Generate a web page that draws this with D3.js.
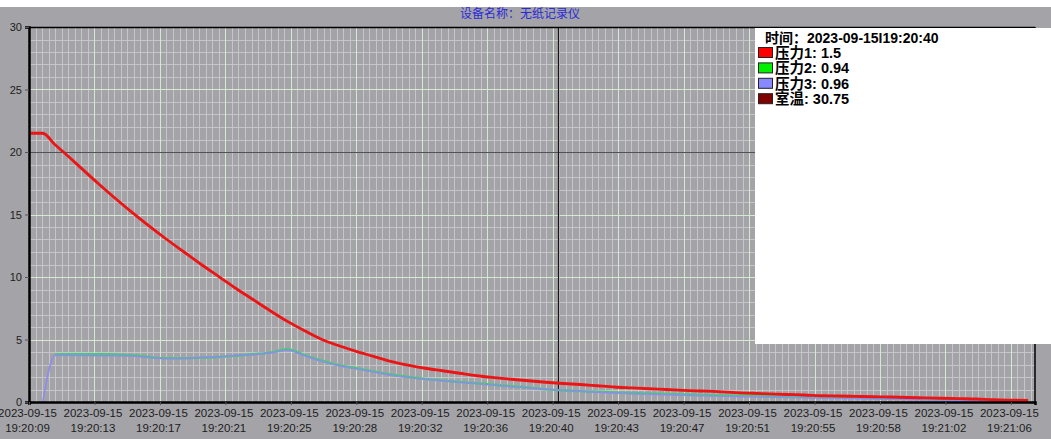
<!DOCTYPE html>
<html>
<head>
<meta charset="utf-8">
<script src="https://cdn.jsdelivr.net/npm/d3@7"></script>
<style>
  html, body { margin: 0; padding: 0; background: #ffffff; }
  svg { display: block; }
</style>
</head>
<body>
<svg id="chart" width="1051" height="439"></svg>
<script>
// Sample times in seconds after 19:20:09
const times = [0, 0.8, 1.5, 2, 3, 4, 5, 6, 7, 8, 9, 10, 11, 12, 13, 14, 15, 16, 17, 18, 19,
  20, 21, 22, 23, 24, 25, 26, 27, 28, 29, 30, 31, 32, 33, 34, 35, 36, 37, 38, 39,
  40, 41, 42, 43, 44, 45, 46, 47, 48, 49, 50, 51, 52, 53, 54, 55, 56, 57, 58];

// 压力1
const pressure1 = [21.5, 21.5, 20.6, 20.0, 18.75, 17.5, 16.3, 15.15, 14.05, 13.0, 12.0, 11.0, 10.05, 9.1, 8.2, 7.3, 6.45, 5.7, 5.0, 4.5, 4.05,
  3.65, 3.25, 2.95, 2.7, 2.5, 2.3, 2.1, 1.95, 1.82, 1.7, 1.58, 1.48, 1.4, 1.3, 1.2, 1.13, 1.06, 1.0, 0.93, 0.88,
  0.83, 0.75, 0.7, 0.65, 0.6, 0.56, 0.5, 0.48, 0.45, 0.42, 0.4, 0.36, 0.33, 0.3, 0.27, 0.24, 0.18, 0.15, 0.13];

// 压力2
const pressure2 = [null, null, 3.8, 3.82, 3.82, 3.82, 3.8, 3.75, 3.6, 3.5, 3.5, 3.55, 3.6, 3.7, 3.82, 3.95, 4.22, 3.75, 3.3, 2.95, 2.7,
  2.45, 2.2, 2.0, 1.85, 1.72, 1.6, 1.5, 1.38, 1.26, 1.15, 1.01, 0.92, 0.87, 0.82, 0.77, 0.72, 0.68, 0.64, 0.6, 0.57,
  0.54, 0.51, 0.49, 0.46, 0.44, 0.41, 0.39, 0.36, 0.34, 0.31, 0.29, 0.26, 0.24, 0.21, 0.19, 0.16, 0.14, 0.11, 0.09];

// 压力3
const pressure3 = [null, 0, 3.72, 3.74, 3.72, 3.7, 3.7, 3.68, 3.55, 3.48, 3.5, 3.56, 3.62, 3.72, 3.8, 3.92, 4.15, 3.7, 3.25, 2.9, 2.65,
  2.4, 2.15, 1.97, 1.82, 1.7, 1.58, 1.47, 1.35, 1.23, 1.12, 1.02, 0.95, 0.86, 0.78, 0.72, 0.66, 0.62, 0.58, 0.54, 0.5,
  0.47, 0.44, 0.41, 0.39, 0.36, 0.34, 0.31, 0.29, 0.27, 0.24, 0.22, 0.2, 0.17, 0.15, 0.12, 0.1, 0.08, 0.06, 0.05];

// Time axis labels (one every 3.8 s)
const tickDates = ["2023-09-15", "2023-09-15", "2023-09-15", "2023-09-15", "2023-09-15", "2023-09-15", "2023-09-15", "2023-09-15",
  "2023-09-15", "2023-09-15", "2023-09-15", "2023-09-15", "2023-09-15", "2023-09-15", "2023-09-15", "2023-09-15"];
const tickTimes = ["19:20:09", "19:20:13", "19:20:17", "19:20:21", "19:20:25", "19:20:28", "19:20:32", "19:20:36",
  "19:20:40", "19:20:43", "19:20:47", "19:20:51", "19:20:55", "19:20:58", "19:21:02", "19:21:06"];
const tickStep = 3.8;
const yTicks = [0, 5, 10, 15, 20, 25, 30];

// Cursor readout
const cursorTime = 30.7;
const cursorLevel = 20;
const cursorStamp = "2023-09-15I19:20:40";
const legendNames = ["压力1", "压力2", "压力3", "室温"];
const legendValues = ["1.5", "0.94", "0.96", "30.75"];
const legendColors = ["#ff0000", "#00f000", "#8888ff", "#800000"];
const title = "设备名称：无纸记录仪";

const W = 1051, H = 439;
const plot = { left: 29, right: 1035, top: 27, bottom: 402 };

const svg = d3.select("#chart");
const x = d3.scaleLinear().domain([0, 58.4]).range([plot.left, plot.right]);
const y = d3.scaleLinear().domain([0, 30]).range([plot.bottom, plot.top]);

// background
svg.append("rect").attr("width", W).attr("height", H).attr("fill", "#a4a4a8");
svg.append("rect").attr("width", W).attr("height", 7).attr("fill", "#ffffff");

// title
svg.append("text")
  .attr("x", 520).attr("y", 18)
  .attr("text-anchor", "middle")
  .attr("font-family", "'Noto Sans CJK SC', sans-serif")
  .attr("font-size", 12)
  .attr("fill", "#2a2ad8")
  .text(title);

// grid
const grid = svg.append("g");
const minorX = d3.range(0, 58.4, tickStep / 10);
const minorY = d3.range(0, 30.01, 1);
grid.selectAll(".vminor").data(minorX).join("line")
  .attr("x1", d => Math.round(x(d)) + 0.5).attr("x2", d => Math.round(x(d)) + 0.5)
  .attr("y1", plot.top).attr("y2", plot.bottom)
  .attr("stroke", "#c6c6c8").attr("stroke-width", 1);
grid.selectAll(".hminor").data(minorY).join("line")
  .attr("x1", plot.left).attr("x2", plot.right)
  .attr("y1", d => Math.round(y(d)) + 0.5).attr("y2", d => Math.round(y(d)) + 0.5)
  .attr("stroke", "#c6c6c8").attr("stroke-width", 1);
grid.selectAll(".vmajor").data(d3.range(0, tickTimes.length)).join("line")
  .attr("x1", d => Math.round(x(d * tickStep)) + 0.5).attr("x2", d => Math.round(x(d * tickStep)) + 0.5)
  .attr("y1", plot.top).attr("y2", plot.bottom)
  .attr("stroke", "#d4e8d4").attr("stroke-width", 1);
grid.selectAll(".hmajor").data(yTicks).join("line")
  .attr("x1", plot.left).attr("x2", plot.right)
  .attr("y1", d => Math.round(y(d)) + 0.5).attr("y2", d => Math.round(y(d)) + 0.5)
  .attr("stroke", "#d4e8d4").attr("stroke-width", 1);

// crosshair
svg.append("line")
  .attr("x1", plot.left).attr("x2", plot.right)
  .attr("y1", Math.round(y(cursorLevel)) + 0.5).attr("y2", Math.round(y(cursorLevel)) + 0.5)
  .attr("stroke", "#505458").attr("stroke-width", 1);
svg.append("line")
  .attr("x1", Math.round(x(cursorTime)) + 0.5).attr("x2", Math.round(x(cursorTime)) + 0.5)
  .attr("y1", plot.top).attr("y2", plot.bottom)
  .attr("stroke", "#151515").attr("stroke-width", 1.2);

// series
svg.append("clipPath").attr("id", "plotclip").append("rect")
  .attr("x", plot.left).attr("y", plot.top)
  .attr("width", plot.right - plot.left).attr("height", plot.bottom - plot.top);
const series = [
  { values: pressure2, color: "#48c878", width: 2.4 },
  { values: pressure3, color: "#8c8cf0", width: 1.5 },
  { values: pressure1, color: "#ec1414", width: 2.8 }
];
const lineGen = vals => d3.line()
  .defined((d, i) => vals[i] !== null)
  .curve(d3.curveMonotoneX)
  .x((d, i) => x(times[i]))
  .y((d, i) => y(vals[i]))(vals);
svg.append("g").attr("clip-path", "url(#plotclip)")
  .selectAll("path").data(series).join("path")
  .attr("d", s => lineGen(s.values))
  .attr("fill", "none")
  .attr("stroke", s => s.color)
  .attr("stroke-width", s => s.width)
  .attr("stroke-linejoin", "round");

// frame
svg.append("line").attr("x1", plot.left).attr("x2", plot.right).attr("y1", plot.top + 0.5).attr("y2", plot.top + 0.5)
  .attr("stroke", "#000").attr("stroke-width", 1.5);
svg.append("line").attr("x1", plot.right).attr("x2", plot.right).attr("y1", plot.top).attr("y2", plot.bottom)
  .attr("stroke", "#000").attr("stroke-width", 1.5);

// axes
const yAxis = svg.append("g").attr("transform", `translate(${plot.left},0)`)
  .call(d3.axisLeft(y).tickValues(yTicks).tickSize(4).tickPadding(3));
yAxis.select(".domain").attr("stroke", "#000").attr("stroke-width", 2.5);
yAxis.selectAll(".tick line").attr("stroke", "#555");
yAxis.selectAll("text").attr("font-family", "'Liberation Sans', Arial, sans-serif")
  .attr("font-size", 11).attr("fill", "#1c1c1c");

const xAxis = svg.append("g").attr("transform", `translate(0,${plot.bottom})`)
  .call(d3.axisBottom(x).tickValues(d3.range(0, tickTimes.length).map(i => i * tickStep))
    .tickSize(3).tickFormat(""));
xAxis.select(".domain").attr("stroke", "#000").attr("stroke-width", 2.5);
xAxis.selectAll(".tick line").attr("stroke", "#555");
xAxis.selectAll(".tick").each(function(d, i) {
  const t = d3.select(this).select("text")
    .attr("font-family", "'Liberation Sans', Arial, sans-serif")
    .attr("font-size", 11.5).attr("fill", "#1c1c1c")
    .attr("text-anchor", "middle").attr("y", 0).attr("dy", null);
  t.append("tspan").attr("x", -2).attr("y", 15).text(tickDates[i]);
  t.append("tspan").attr("x", -2).attr("y", 30).text(tickTimes[i]);
});

// readout panel
const panel = svg.append("g");
panel.append("rect").attr("x", 755).attr("y", 28).attr("width", W - 755).attr("height", 316).attr("fill", "#ffffff");
panel.append("text")
  .attr("x", 765).attr("y", 43)
  .attr("font-family", "'Liberation Sans', 'Noto Sans CJK SC', sans-serif")
  .attr("font-weight", "bold").attr("font-size", 14).attr("fill", "#000")
  .text("时间：" + cursorStamp);
legendNames.forEach((name, i) => {
  const by = 58 + i * 15.4;
  panel.append("rect")
    .attr("x", 758.5).attr("y", by - 10.5).attr("width", 14).attr("height", 10)
    .attr("fill", legendColors[i]).attr("stroke", "#222").attr("stroke-width", 1);
  panel.append("text")
    .attr("x", 775).attr("y", by)
    .attr("font-family", "'Liberation Sans', 'Noto Sans CJK SC', sans-serif")
    .attr("font-weight", "bold").attr("font-size", 14.5).attr("fill", "#000")
    .text(name + ":  " + legendValues[i]);
});
</script>
</body>
</html>
